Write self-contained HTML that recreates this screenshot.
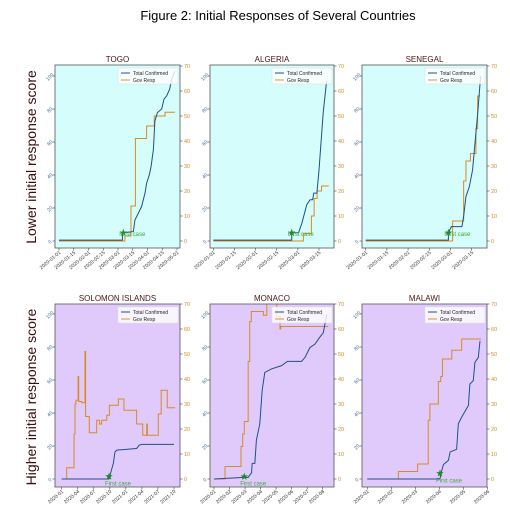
<!DOCTYPE html>
<html><head><meta charset="utf-8"><style>
body{margin:0;background:#fff;}
svg{display:block;font-family:"Liberation Sans",sans-serif;}
</style></head><body>
<svg id="fig" width="510" height="512" viewBox="0 0 510 512">
<text x="278" y="20" text-anchor="middle" font-size="13" fill="#000">Figure 2: Initial Responses of Several Countries</text>
<text transform="translate(36,157) rotate(-90)" text-anchor="middle" font-size="14" fill="#3a0d0d">Lower initial response score</text>
<text transform="translate(36,397) rotate(-90)" text-anchor="middle" font-size="14" fill="#3a0d0d">Higher initial response score</text>
</svg>
<script>
// ---- data (x in tick-index units, conf in left-axis units, gov in right-axis units) ----
const togoTicks=["2020-01-01","2020-01-15","2020-02-01","2020-02-15","2020-03-01","2020-03-15","2020-04-01","2020-04-15","2020-05-01"];
const togoConf=[[0,0.5],[4.3,0.5],[4.3,5],[5.04,5.7],[5.15,12.8],[5.38,16.9],[5.6,20.9],[5.83,29],[5.94,35],[6.12,40],[6.24,45],[6.4,55.5],[6.5,72.7],[6.67,77.8],[6.96,80],[7.12,86],[7.3,88],[7.5,92],[7.64,98],[7.86,103]];
const togoGov=[[0,0],[4.47,2],[4.88,14],[5.18,41],[5.94,46],[6.46,50],[7.19,51.5],[7.86,51.5]];
const togoStar=[4.36,5];

const algTicks=["2020-01-01","2020-01-15","2020-02-01","2020-02-15","2020-03-01","2020-03-15"];
const algConf=[[0,0.5],[3.71,0.5],[3.71,5],[4.03,5],[4.19,10.8],[4.42,22],[4.58,25],[4.7,25],[4.75,29],[4.9,29],[5.0,43],[5.2,78],[5.36,97]];
const algGov=[[0,0],[4.26,3],[4.64,10],[4.77,17],[4.91,20],[5.12,22],[5.46,22]];
const algStar=[3.71,5];

const senTicks=["2020-01-01","2020-01-15","2020-02-01","2020-02-15","2020-03-01","2020-03-15"];
const senConf=[[0,0.5],[3.9,0.5],[3.9,5],[4.04,8.7],[4.54,8.7],[4.62,15],[4.73,27],[4.89,33],[5.04,43],[5.14,57],[5.3,80],[5.42,100]];
const senGov=[[0,0],[4.1,8],[4.62,24],[4.73,32],[4.94,35],[5.2,45],[5.28,58],[5.4,58]];
const senStar=[3.9,5];

const solTicks=["2020-01","2020-04","2020-07","2020-10","2021-01","2021-04","2021-07","2021-10"];
const solConf=[[0,0],[2.95,0],[3.0,2],[3.22,9.5],[3.32,16.4],[3.43,17.5],[4.67,18.5],[4.83,20.5],[4.98,21],[7.0,21]];
const solGov=[[0,0],[0.31,4.5],[0.77,18],[0.83,30],[0.89,31.5],[1.02,41],[1.06,31],[1.25,30.5],[1.45,51],[1.49,25],[1.72,18.5],[2.18,23.5],[2.35,22],[2.49,23.5],[2.81,25.5],[2.97,29.5],[3.53,32],[3.88,27.5],[4.67,22],[5.05,17.5],[5.3,22],[5.34,17.5],[6.02,26],[6.2,35.5],[6.58,28.5],[7.06,28.5]];
const solStar=[2.95,1.5];

const monTicks=["2020-01","2020-02","2020-03","2020-04","2020-05","2020-06","2020-07","2020-08"];
const monConf=[[0,0],[1.95,1],[2.2,1],[2.42,3.8],[2.46,9.5],[2.63,9.5],[2.73,23.5],[2.95,33.5],[3.1,53.6],[3.27,64.6],[3.7,66.7],[4.35,68.7],[4.73,71.3],[5.64,71.3],[5.86,73.7],[6.18,79.7],[6.5,81.7],[6.82,86],[7.04,88.7],[7.26,99.8]];
const monGov=[[0,0],[0.71,5],[1.74,13],[1.85,18],[1.95,23],[2.2,47],[2.3,63],[2.4,67],[3.18,65.5],[3.4,72],[4.05,65],[4.25,60],[4.3,61],[7.35,61]];
const monStar=[1.95,1.4];

const malTicks=["2020-01","2020-02","2020-03","2020-04","2020-05","2020-06"];
const malConf=[[0,0],[3.02,0],[3.06,3.4],[3.16,8.7],[3.37,11.4],[3.44,16.4],[3.71,18],[3.78,33.5],[3.92,37.5],[4.2,44.6],[4.26,57.6],[4.4,59.6],[4.47,70.7],[4.61,73.7],[4.68,83.7]];
const malGov=[[0,0],[1.29,3],[2.09,6],[2.53,23.5],[2.6,30],[2.95,39],[3.05,41],[3.12,48],[3.51,51.5],[3.92,56],[4.72,56]];
const malStar=[3.02,3.4];

// ---- layout ----
const svg=document.getElementById('fig');
const NS='http://www.w3.org/2000/svg';
function el(tag,attrs,parent){const e=document.createElementNS(NS,tag);for(const k in attrs)e.setAttribute(k,attrs[k]);(parent||svg).appendChild(e);return e;}

const panels=[
 {key:'togo',title:'TOGO',l:55,r:180,t:65,b:248,z:241,tx0:59,tx1:177,ticks:togoTicks,conf:togoConf,gov:togoGov,star:togoStar,bg:'#d5fdfb'},
 {key:'algeria',title:'ALGERIA',l:210,r:334,t:65,b:248,z:241,tx0:213.3,tx1:319,ticks:algTicks,conf:algConf,gov:algGov,star:algStar,bg:'#d5fdfb'},
 {key:'senegal',title:'SENEGAL',l:362,r:487,t:65,b:248,z:241,tx0:365.7,tx1:471.7,ticks:senTicks,conf:senConf,gov:senGov,star:senStar,bg:'#d5fdfb'},
 {key:'solomon',title:'SOLOMON ISLANDS',l:55,r:180,t:304,b:487,z:479,tx0:61.7,tx1:174,ticks:solTicks,conf:solConf,gov:solGov,star:solStar,bg:'#e0cafc'},
 {key:'monaco',title:'MONACO',l:210,r:334,t:304,b:487,z:479,tx0:214,tx1:322.7,ticks:monTicks,conf:monConf,gov:monGov,star:monStar,bg:'#e0cafc'},
 {key:'malawi',title:'MALAWI',l:362,r:487,t:304,b:487,z:479,tx0:367.3,tx1:487.7,ticks:malTicks,conf:malConf,gov:malGov,star:malStar,bg:'#e0cafc'}
];
const BLUE='#1f4f8a', ORANGE='#d98a22';
const LPX=1.65, RPX=2.5;

panels.forEach((p,pi)=>{
 const g=el('g',{});
 
 
 const sp=(p.tx1-p.tx0)/(p.ticks.length-1);
 const X=v=>p.tx0+v*sp;
 const YL=v=>p.z-v*LPX;
 const YR=v=>p.z-v*RPX;
 const bg=el('rect',{x:p.l,y:p.t,width:p.r-p.l,height:p.b-p.t,fill:p.bg},g);
 
 
 const cid='clip'+pi;
 const cp=el('clipPath',{id:cid},g);el('rect',{x:p.l,y:p.t,width:p.r-p.l,height:p.b-p.t},cp);
 const tt=el('text',{x:(p.l+p.r)/2,y:p.t-3,'text-anchor':'middle','font-size':8,fill:'#4a1414'},g);
 tt.textContent=p.title;
 
 
 // gov step line
 let d='';
 p.gov.forEach((pt,i)=>{
  if(i===0)d+='M'+X(pt[0])+','+YR(pt[1]);
  else{d+=' L'+X(pt[0])+','+YR(p.gov[i-1][1])+' L'+X(pt[0])+','+YR(pt[1]);}
 });
 const gl=el('path',{d:d,fill:'none',stroke:ORANGE,'stroke-width':1,'clip-path':'url(#'+cid+')'},g);
 
 
 const cl=el('polyline',{points:p.conf.map(pt=>X(pt[0])+','+YL(pt[1])).join(' '),fill:'none',stroke:BLUE,'stroke-width':1,'clip-path':'url(#'+cid+')'},g);
 
 
 // star
 const sx=X(p.star[0]),sy=YL(p.star[1]);
 let sd='';for(let k=0;k<10;k++){const a=-Math.PI/2+k*Math.PI/5;const rr=k%2?1.6:4;sd+=(k?'L':'M')+(sx+rr*Math.cos(a)).toFixed(1)+','+(sy+rr*Math.sin(a)).toFixed(1);}
 const st=el('path',{d:sd+'Z',fill:'#1a8a1a'},g);
 
 
 const fc=el('text',{x:sx-4,y:sy+(pi<3?3:9),'font-size':6,fill:'#3aaa3a'},g);
 fc.textContent='First case';
 
 
 // spines
 const fr=el('rect',{x:p.l,y:p.t,width:p.r-p.l,height:p.b-p.t,fill:'none',stroke:'#555','stroke-width':0.8},g);
 
 
 // x ticks
 p.ticks.forEach((lab,i)=>{
  const x=X(i);
  el('line',{x1:x,y1:p.b,x2:x,y2:p.b+2.5,stroke:'#444','stroke-width':0.6},g);
  const t=el('text',{transform:'translate('+(x+2)+','+(p.b+5)+') rotate(-40)','text-anchor':'end','font-size':5,fill:'#333'},g);
  t.textContent=lab;
  
  
 });
 // left ticks
 for(let v=0;v<=100;v+=20){
  const y=YL(v);
  el('line',{x1:p.l-2.5,y1:y,x2:p.l,y2:y,stroke:'#444','stroke-width':0.6},g);
  const t=el('text',{transform:'translate('+(p.l-4)+','+(y+2)+') rotate(-45)','text-anchor':'middle','font-size':5,fill:'#3a6ea5'},g);
  t.textContent=v;
  
  
 }
 // right ticks
 for(let v=0;v<=70;v+=10){
  const y=YR(v);
  el('line',{x1:p.r,y1:y,x2:p.r+2.5,y2:y,stroke:'#444','stroke-width':0.6},g);
  const t=el('text',{x:p.r+4,y:y+2,'font-size':5.5,fill:'#d98a22'},g);
  t.textContent=v;
  
  
 }
 // legend
 const lg=el('g',{},g);
 
 
 const lx=p.r-62,ly=p.t+3;
 el('rect',{x:lx,y:ly,width:60,height:16,fill:'#fff','fill-opacity':0.8,stroke:'#ddd','stroke-width':0.5},lg);
 el('line',{x1:lx+3,y1:ly+5,x2:lx+12,y2:ly+5,stroke:BLUE,'stroke-width':1},lg);
 el('line',{x1:lx+3,y1:ly+12,x2:lx+12,y2:ly+12,stroke:ORANGE,'stroke-opacity':0.6,'stroke-width':1.5},lg);
 const t1=el('text',{x:lx+15,y:ly+7,'font-size':5,fill:'#222'},lg);t1.textContent='Total Confirmed';
 
 
 const t2=el('text',{x:lx+15,y:ly+14,'font-size':5,fill:'#222'},lg);t2.textContent='Gov Resp';
 
 
});
</script>
</body></html>
